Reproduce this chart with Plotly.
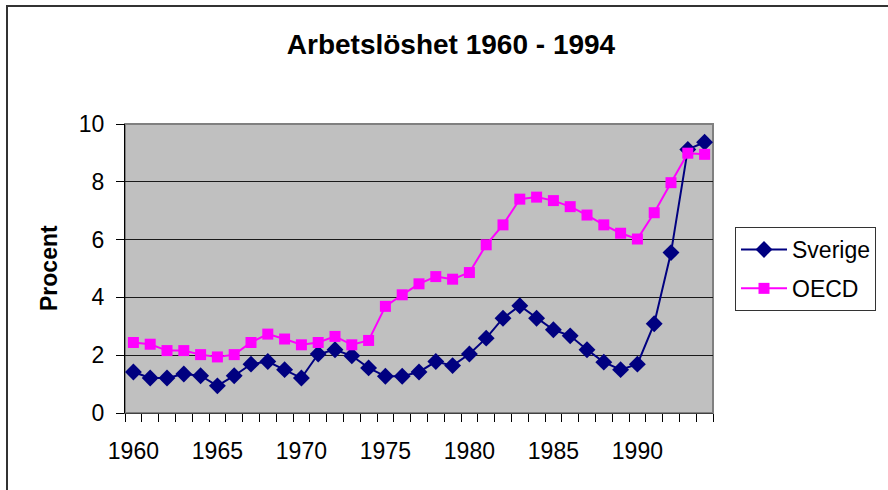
import plotly.graph_objects as go

years = list(range(1960, 1995))
sverige = [1.42, 1.21, 1.21, 1.35, 1.29, 0.94, 1.29, 1.69, 1.78, 1.50, 1.21, 2.04, 2.19, 1.98, 1.56, 1.27, 1.27,
           1.42, 1.78, 1.64, 2.04, 2.59, 3.28, 3.71, 3.28, 2.88, 2.67, 2.19, 1.76, 1.50, 1.69, 3.09, 5.55, 9.12, 9.37]
oecd = [2.44, 2.38, 2.16, 2.16, 2.02, 1.94, 2.02, 2.44, 2.73, 2.56, 2.36, 2.44, 2.65, 2.36, 2.51, 3.69, 4.09,
        4.47, 4.72, 4.63, 4.86, 5.82, 6.51, 7.40, 7.47, 7.35, 7.14, 6.85, 6.51, 6.22, 6.02, 6.93, 7.97, 8.99, 8.95]
x_ticks = [1960, 1965, 1970, 1975, 1980, 1985, 1990]
y_ticks = [0, 2, 4, 6, 8, 10]

FONT = "Arial, 'Liberation Sans', sans-serif"

fig = go.Figure()
fig.add_trace(go.Scatter(
    x=years, y=sverige, name="Sverige", mode="lines+markers", legendgroup="a",
    line=dict(color="#000080", width=2),
    marker=dict(symbol="diamond", size=13, color="#000080"),
))
fig.add_trace(go.Scatter(
    x=years, y=oecd, name="OECD", mode="lines+markers", legendgroup="b",
    line=dict(color="#FF00FF", width=2),
    marker=dict(symbol="square", size=11, color="#FF00FF"),
))

boundaries = [y - 0.5 for y in years] + [years[-1] + 0.5]

fig.update_layout(
    width=888, height=490,
    margin=dict(l=125, r=175, t=124, b=77),
    paper_bgcolor="white",
    plot_bgcolor="#C0C0C0",
    font=dict(family=FONT, size=23, color="black"),
    title=dict(text="<b>Arbetslöshet 1960 - 1994</b>", x=451 / 888, xanchor="center",
               y=1 - 44 / 490, yanchor="middle", font=dict(size=28, family=FONT)),
    xaxis=dict(range=[1959.5, 1994.5], tickmode="array", tickvals=x_ticks,
               ticks="outside", ticklen=8, tickcolor="rgba(0,0,0,0)",
               ticklabelstandoff=9,
               showgrid=False, zeroline=False, showline=True, linecolor="#404040", linewidth=1,
               minor=dict(tickmode="array", tickvals=boundaries, ticks="outside", ticklen=8,
                          tickcolor="black", showgrid=False),
               tickfont=dict(size=23)),
    yaxis=dict(range=[0, 10], tickmode="array", tickvals=y_ticks,
               ticks="outside", ticklen=8, tickcolor="black",
               ticklabelstandoff=7,
               showgrid=True, gridcolor="#1a1a1a", gridwidth=1, zeroline=False,
               showline=True, linecolor="black", linewidth=1,
               tickfont=dict(size=23)),
    legend=dict(x=(735 - 125) / 588, y=(413 - 227) / 289, xanchor="left", yanchor="top",
                bgcolor="white", bordercolor="#333333", borderwidth=1,
                font=dict(size=23), traceorder="grouped", tracegroupgap=6, itemwidth=46),
    showlegend=True,
)

# plot area border (gray top/right)
fig.add_shape(type="rect", xref="paper", yref="paper", x0=0, x1=1, y0=0, y1=1,
              line=dict(color="#808080", width=2), layer="below")
# outer chart border
fig.add_shape(type="rect", xref="paper", yref="paper",
              x0=(7 - 125) / 588, x1=(900 - 125) / 588,
              y0=(413 - 500) / 289, y1=(413 - 6) / 289,
              line=dict(color="#333333", width=2), layer="above")

fig.add_annotation(text="<b>Procent</b>", xref="paper", yref="paper",
                   x=(49 - 125) / 588, y=(413 - 268) / 289, textangle=-90,
                   showarrow=False, font=dict(size=23, family=FONT),
                   xanchor="center", yanchor="middle")

fig.write_html("out.html", config={"displayModeBar": False},
               post_script="document.body.style.margin='0';document.body.style.overflow='hidden';")
